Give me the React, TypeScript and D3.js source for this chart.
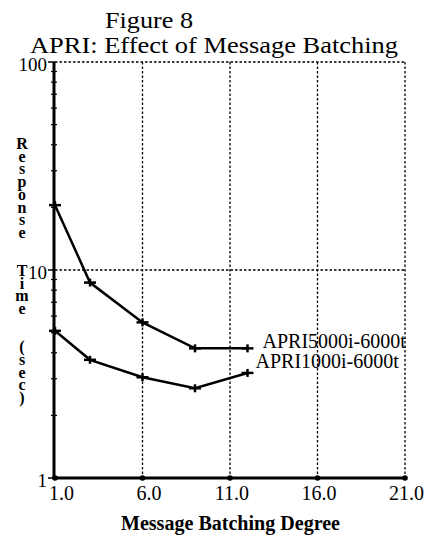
import React from "react";
import * as d3 from "d3";

const batchDegree = [1, 3, 6, 9, 12];
const apri5000 = [20.5, 8.7, 5.6, 4.2, 4.2];
const apri1000 = [5.1, 3.7, 3.05, 2.7, 3.2];
const seriesNames = ["APRI5000i-6000t", "APRI1000i-6000t"];
const xTicks = [1, 6, 11, 16, 21];
const xTickLabels = ["1.0", "6.0", "11.0", "16.0", "21.0"];
const yTicks = [1, 10, 100];
const yTickLabels = ["1", "10", "100"];
const titleLines = ["Figure 8", "APRI: Effect of Message Batching"];
const xTitle = "Message Batching Degree";
const yTitle = "Response Time (sec)";

const FONT = '"Liberation Serif", "Times New Roman", serif';

export default function App() {
  const W = 429, H = 540;
  const x = d3.scaleLinear().domain([1, 21]).range([55, 405]);
  const y = d3.scaleLog().domain([1, 100]).range([478, 62]);
  const line = d3
    .line<[number, number]>()
    .x((d) => x(d[0]))
    .y((d) => y(d[1]));

  const series = [apri5000, apri1000].map((vals) =>
    batchDegree.map((b, i) => [b, vals[i]] as [number, number])
  );
  const labelOffsets = [
    [15, 0],
    [8, -5],
  ];

  const minor: number[] = [];
  for (let dec = 1; dec < 100; dec *= 10) {
    for (let m = 2; m <= 9; m++) minor.push(dec * m);
  }

  // stacked y title: one line per character, a space takes two lines
  const yLetters: { ch: string; cy: number }[] = [];
  let idx = 0;
  for (const ch of yTitle) {
    if (ch === " ") {
      idx += 2;
      continue;
    }
    yLetters.push({ ch, cy: 143 + idx * 12.7 });
    idx += 1;
  }

  const x0 = x(1), x1 = x(21), yTop = y(100), yBot = y(1);

  return (
    <svg
      width={W}
      height={H}
      style={{ position: "absolute", left: 0, top: 0, background: "#fff" }}
      fontFamily={FONT}
    >
      <rect width={W} height={H} fill="#fff" />
      <text x={105} y={28} fontSize={24} textLength={88} lengthAdjust="spacingAndGlyphs">
        {titleLines[0]}
      </text>
      <text x={30} y={53} fontSize={24} textLength={368} lengthAdjust="spacingAndGlyphs">
        {titleLines[1]}
      </text>

      <g stroke="#000" strokeWidth={1.3} strokeDasharray="2.5,2" fill="none">
        {xTicks.slice(1).map((t) => (
          <line key={"gx" + t} x1={x(t)} x2={x(t)} y1={yTop} y2={yBot} />
        ))}
        {yTicks.slice(1).map((t) => (
          <line key={"gy" + t} x1={x0} x2={x1} y1={y(t)} y2={y(t)} />
        ))}
      </g>

      <line x1={x0 - 1} x2={x0 - 1} y1={yTop} y2={yBot} stroke="#000" strokeWidth={3} />
      <line x1={x0 - 1} x2={x1} y1={yBot} y2={yBot} stroke="#000" strokeWidth={3} />
      {xTicks.map((t) => (
        <circle key={"xd" + t} cx={x(t)} cy={yBot} r={2.8} fill="#000" />
      ))}
      {minor.map((m) => (
        <line key={"mt" + m} x1={x0 - 4} x2={x0 + 2} y1={y(m)} y2={y(m)} stroke="#000" strokeWidth={1.2} />
      ))}
      {yTicks.map((t) => (
        <line key={"yt" + t} x1={x0 - 7} x2={x0} y1={y(t)} y2={y(t)} stroke="#000" strokeWidth={1.5} />
      ))}

      {xTicks.map((t, i) => (
        <text key={"xl" + t} x={x(t) + 19} y={500} fontSize={20} textAnchor="end">
          {xTickLabels[i]}
        </text>
      ))}
      {yTicks.map((t, i) => (
        <text key={"yl" + t} x={47} y={y(t) + 9} fontSize={19} textAnchor="end">
          {yTickLabels[i]}
        </text>
      ))}

      <text x={121} y={530} fontSize={20} fontWeight="bold" textLength={219} lengthAdjust="spacingAndGlyphs">
        {xTitle}
      </text>
      <text fontSize={16} fontWeight="bold" textAnchor="middle">
        {yLetters.map((l, i) => (
          <tspan key={"yc" + i} x={22} y={l.cy + 6}>
            {l.ch}
          </tspan>
        ))}
      </text>

      {series.map((pts, si) => (
        <g key={"s" + si}>
          <path d={line(pts) || ""} fill="none" stroke="#000" strokeWidth={2.5} />
          {pts.map((p, pi) => (
            <g key={pi} stroke="#000" strokeWidth={2.5}>
              <line x1={x(p[0]) - 6} x2={x(p[0]) + 6} y1={y(p[1])} y2={y(p[1])} />
              <line x1={x(p[0])} x2={x(p[0])} y1={y(p[1]) - 4} y2={y(p[1]) + 4} />
            </g>
          ))}
          <text
            x={x(pts[pts.length - 1][0]) + labelOffsets[si][0]}
            y={y(pts[pts.length - 1][1]) + labelOffsets[si][1]}
            fontSize={20}
          >
            {seriesNames[si]}
          </text>
        </g>
      ))}
    </svg>
  );
}
